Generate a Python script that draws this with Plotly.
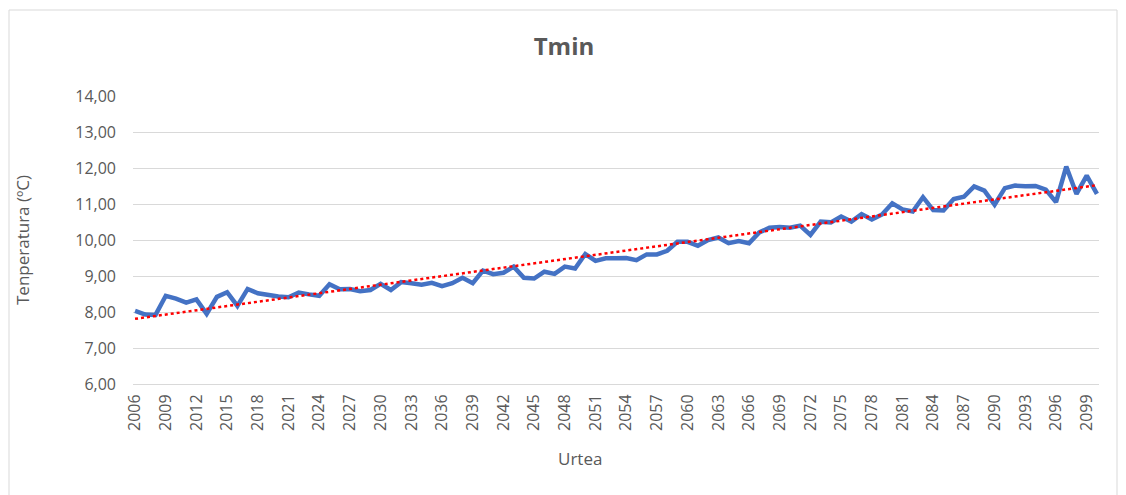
import numpy as np
import plotly.graph_objects as go

years = list(range(2006, 2101))
tmin = [
    8.03, 7.93, 7.92, 8.45, 8.37, 8.26, 8.35, 7.95, 8.42, 8.55,
    8.17, 8.64, 8.52, 8.47, 8.43, 8.41, 8.54, 8.49, 8.45, 8.77,
    8.63, 8.64, 8.58, 8.61, 8.78, 8.61, 8.83, 8.80, 8.76, 8.81,
    8.72, 8.80, 8.95, 8.80, 9.15, 9.05, 9.09, 9.26, 8.95, 8.93,
    9.12, 9.06, 9.26, 9.21, 9.61, 9.42, 9.49, 9.49, 9.50, 9.44,
    9.60, 9.60, 9.70, 9.95, 9.95, 9.84, 10.00, 10.07, 9.91, 9.97,
    9.91, 10.21, 10.34, 10.36, 10.34, 10.40, 10.14, 10.51, 10.49, 10.65,
    10.51, 10.72, 10.57, 10.71, 11.02, 10.85, 10.79, 11.19, 10.83, 10.82,
    11.14, 11.20, 11.49, 11.37, 10.98, 11.44, 11.51, 11.49, 11.50, 11.40,
    11.05, 12.04, 11.28, 11.79, 11.28,
]
tick_years = list(range(2006, 2100, 3))

title_text = "Tmin"
x_title = "Urtea"
y_title = "Tenperatura (ºC)"

# linear trendline (as in the spreadsheet chart)
coef = np.polyfit(years, tmin, 1)
trend = np.polyval(coef, years)

# page has an 8px body margin; work in page pixels and shift
OFF = 8
W, H = 1126 - OFF, 495 - OFF
PL, PR, PT, PB = 133, 1099, 96, 384          # plot area in page px
L, R = PL - OFF, W - (PR - OFF)
T, B = PT - OFF, H - (PB - OFF)
pw, ph = PR - PL, PB - PT

def px_x(x):
    return (x - PL) / pw

def px_y(y):
    return (PB - y) / ph

grey = "#595959"
font = "'Open Sans', Lato, sans-serif"

fig = go.Figure()
fig.add_trace(go.Scatter(
    x=years, y=tmin, mode="lines",
    line=dict(color="#4472C4", width=4.5),
    showlegend=False, hoverinfo="x+y",
))
fig.add_trace(go.Scatter(
    x=years, y=trend, mode="lines",
    line=dict(color="#FF0000", width=2.5, dash="dot"),
    showlegend=False, hoverinfo="skip",
))

fig.update_layout(
    width=W, height=H,
    margin=dict(l=L, r=R, t=T, b=B, autoexpand=False),
    paper_bgcolor="white", plot_bgcolor="white",
    separators=",.",
    font=dict(family=font, color=grey, size=16),
    title=dict(text="<b>" + title_text + "</b>", xref="container",
               x=(564 - OFF) / W, xanchor="center",
               y=1 - (47 - OFF) / H, yanchor="middle",
               font=dict(size=24, color=grey, family=font)),
    xaxis=dict(
        range=[2005.8, 2100.2],
        tickmode="array", tickvals=tick_years,
        ticktext=[str(v) for v in tick_years],
        tickangle=-90, tickfont=dict(size=16, color=grey),
        showgrid=False, zeroline=False,
        showline=True, linecolor="#d9d9d9", linewidth=1,
        ticks="", ticklabelstandoff=3,
    ),
    yaxis=dict(
        range=[6, 14], dtick=1, tick0=6, tickformat=".2f",
        tickfont=dict(size=16, color=grey),
        showgrid=True, gridcolor="#d9d9d9", gridwidth=1,
        zeroline=False, showline=False, ticks="",
        ticklabelstandoff=16,
    ),
    annotations=[
        dict(text=x_title, xref="paper", yref="paper",
             x=px_x(580), y=px_y(458), xanchor="center", yanchor="middle",
             showarrow=False, font=dict(size=17, color=grey, family=font)),
        dict(text=y_title, xref="paper", yref="paper",
             x=px_x(22), y=px_y(240), xanchor="center", yanchor="middle",
             textangle=-90, showarrow=False,
             font=dict(size=17, color=grey, family=font)),
    ],
    shapes=[dict(
        type="rect", xref="paper", yref="paper",
        x0=px_x(9), x1=px_x(1117), y0=px_y(500), y1=px_y(10),
        line=dict(color="#d9d9d9", width=1), fillcolor="rgba(0,0,0,0)",
        layer="below",
    )],
)

fig.write_html("out.html")
